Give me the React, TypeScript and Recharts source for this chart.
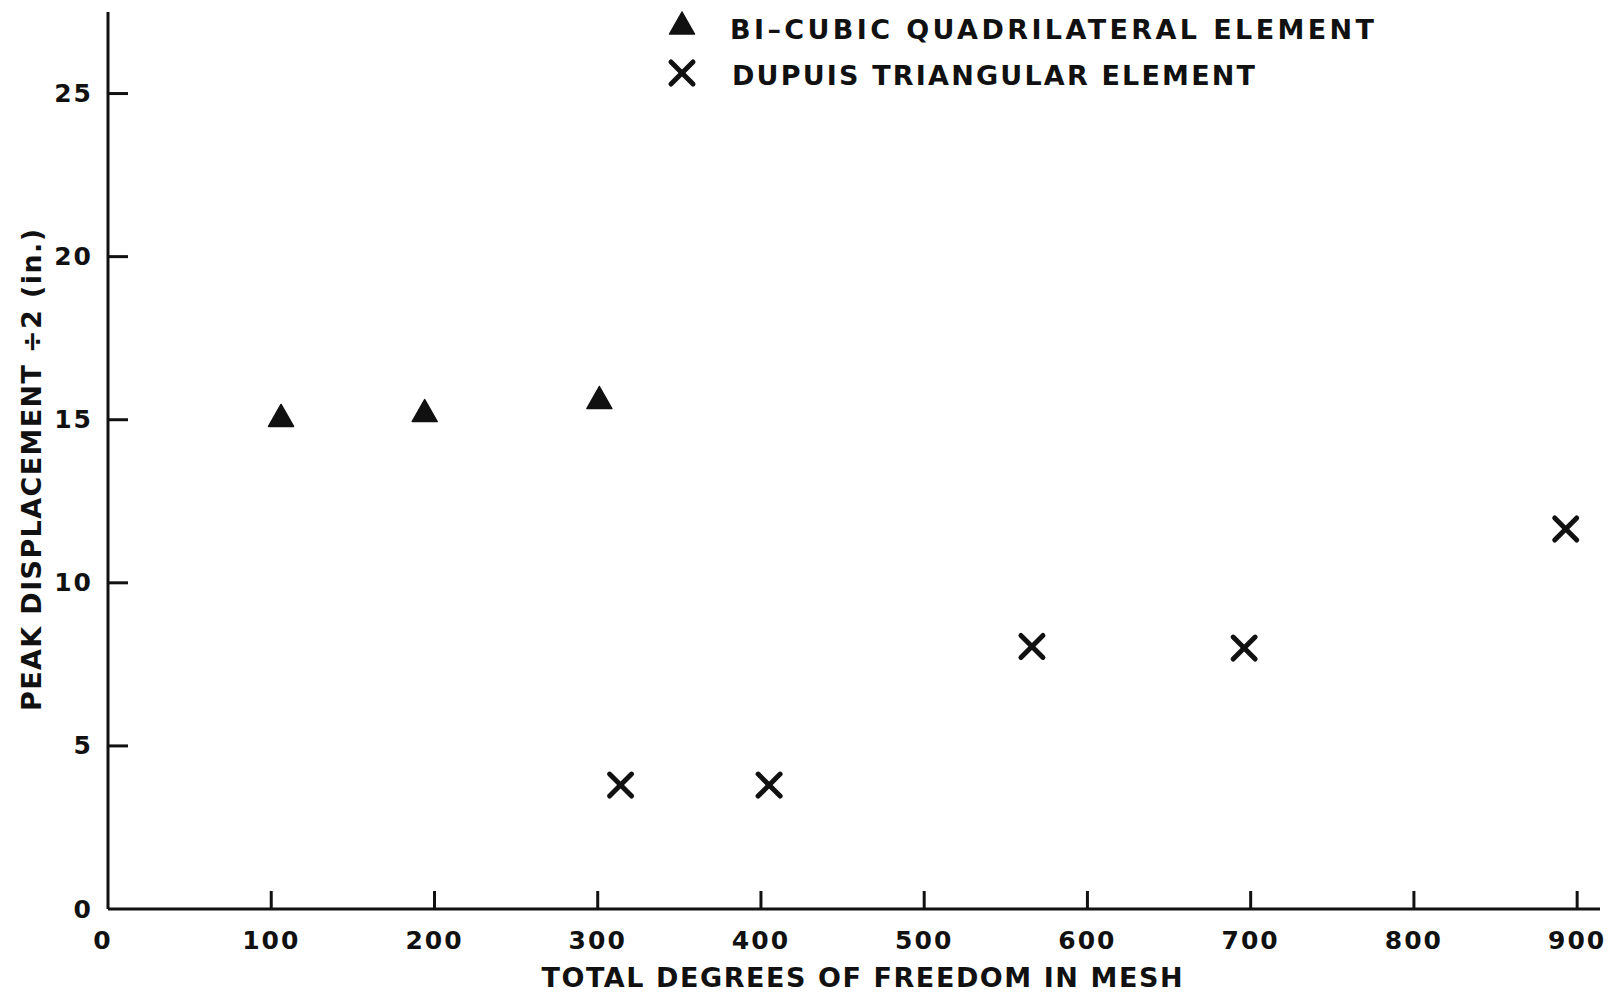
import { ScatterChart, Scatter, XAxis, YAxis, Legend } from 'recharts'

// ── Data ─────────────────────────────────────────────────────────────────────

const bicubicDof = [106, 194, 301]
const bicubicDisp = [15.1, 15.25, 15.65]

const dupuisDof = [314, 405, 566, 696, 893]
const dupuisDisp = [3.8, 3.8, 8.05, 8.0, 11.65]

const xTicks = [0, 100, 200, 300, 400, 500, 600, 700, 800, 900]
const yTicks = [0, 5, 10, 15, 20, 25]

const bicubicData = bicubicDof.map((x, i) => ({ x, y: bicubicDisp[i] }))
const dupuisData = dupuisDof.map((x, i) => ({ x, y: dupuisDisp[i] }))

// ── Helpers ──────────────────────────────────────────────────────────────────

const INK = '#111'
const FONT = '"DejaVu Sans", sans-serif'

const Triangle = ({ cx, cy }: any) => (
  <path d={`M${cx},${cy - 12} L${cx + 12.5},${cy + 10} L${cx - 12.5},${cy + 10} Z`} fill={INK} stroke={INK} strokeWidth={1.5} strokeLinejoin="round" />
)

const Cross = ({ cx, cy }: any) => (
  <g stroke={INK} strokeWidth={5} strokeLinecap="round">
    <line x1={cx - 11} y1={cy - 11} x2={cx + 11} y2={cy + 11} />
    <line x1={cx - 11} y1={cy + 11} x2={cx + 11} y2={cy - 11} />
  </g>
)

const XTick = ({ x, y, payload }: any) => (
  <g>
    {payload.value !== 0 && <line x1={x} y1={y} x2={x} y2={y - 18} stroke={INK} strokeWidth={3} />}
    <text x={payload.value === 0 ? x - 5 : x} y={y + 31} textAnchor="middle" dominantBaseline="central" fontFamily={FONT} fontWeight="bold" fontSize={25} letterSpacing={2} fill={INK}>
      {payload.value}
    </text>
  </g>
)

const YTick = ({ x, y, payload }: any) => (
  <g>
    {payload.value !== 0 && <line x1={x} y1={y} x2={x + 20} y2={y} stroke={INK} strokeWidth={3} />}
    <text x={x - 15} y={y} textAnchor="end" dominantBaseline="central" fontFamily={FONT} fontWeight="bold" fontSize={25} letterSpacing={2} fill={INK}>
      {payload.value}
    </text>
  </g>
)

const LegendBox = () => (
  <svg width={1616} height={100} style={{ display: 'block' }}>
    <Triangle cx={682} cy={24} />
    <text x={730} y={29} dominantBaseline="central" fontFamily={FONT} fontWeight="bold" fontSize={27} fill={INK} textLength={644} lengthAdjust="spacing">
      BI–CUBIC QUADRILATERAL ELEMENT
    </text>
    <Cross cx={682} cy={73} />
    <text x={732} y={75} dominantBaseline="central" fontFamily={FONT} fontWeight="bold" fontSize={27} fill={INK} textLength={523} lengthAdjust="spacing">
      DUPUIS TRIANGULAR ELEMENT
    </text>
  </svg>
)

// ── Component ────────────────────────────────────────────────────────────────

export default function App() {
  return (
    <div style={{ position: 'fixed', left: 0, top: 0, width: 1616, height: 999, background: '#fff' }}>
      <ScatterChart width={1616} height={999} margin={{ top: 12, right: 16, bottom: 0, left: 8 }}>
        <XAxis
          type="number"
          dataKey="x"
          domain={[0, 914]}
          ticks={xTicks}
          interval={0}
          height={90}
          tickSize={0}
          tickMargin={0}
          tick={<XTick />}
          axisLine={{ stroke: INK, strokeWidth: 3 }}
          label={{
            content: ({ viewBox }: any) => (
              <text x={viewBox.x + viewBox.width / 2 + 8} y={viewBox.y + 68} textAnchor="middle" dominantBaseline="central" fontFamily={FONT} fontWeight="bold" fontSize={27} fill={INK} textLength={641} lengthAdjust="spacing">
                TOTAL DEGREES OF FREEDOM IN MESH
              </text>
            ),
          }}
        />
        <YAxis
          type="number"
          dataKey="y"
          domain={[0, 27.5]}
          ticks={yTicks}
          interval={0}
          width={100}
          tickSize={0}
          tickMargin={0}
          tick={<YTick />}
          axisLine={{ stroke: INK, strokeWidth: 3 }}
          label={{
            content: ({ viewBox }: any) => {
              const cx = viewBox.x + 23
              const cy = 470
              return (
                <text x={cx} y={cy} transform={`rotate(-90 ${cx} ${cy})`} textAnchor="middle" dominantBaseline="central" fontFamily={FONT} fontWeight="bold" fontSize={27} fill={INK} textLength={482} lengthAdjust="spacing">
                  PEAK DISPLACEMENT ÷2 (in.)
                </text>
              )
            },
          }}
        />
        <Legend
          layout="horizontal"
          verticalAlign="middle"
          align="center"
          wrapperStyle={{ position: 'absolute', left: 0, top: 0, width: 1616 }}
          content={() => <LegendBox />}
        />
        <Scatter name="BI–CUBIC QUADRILATERAL ELEMENT" data={bicubicData} shape={<Triangle />} isAnimationActive={false} />
        <Scatter name="DUPUIS TRIANGULAR ELEMENT" data={dupuisData} shape={<Cross />} isAnimationActive={false} />
      </ScatterChart>
    </div>
  )
}
